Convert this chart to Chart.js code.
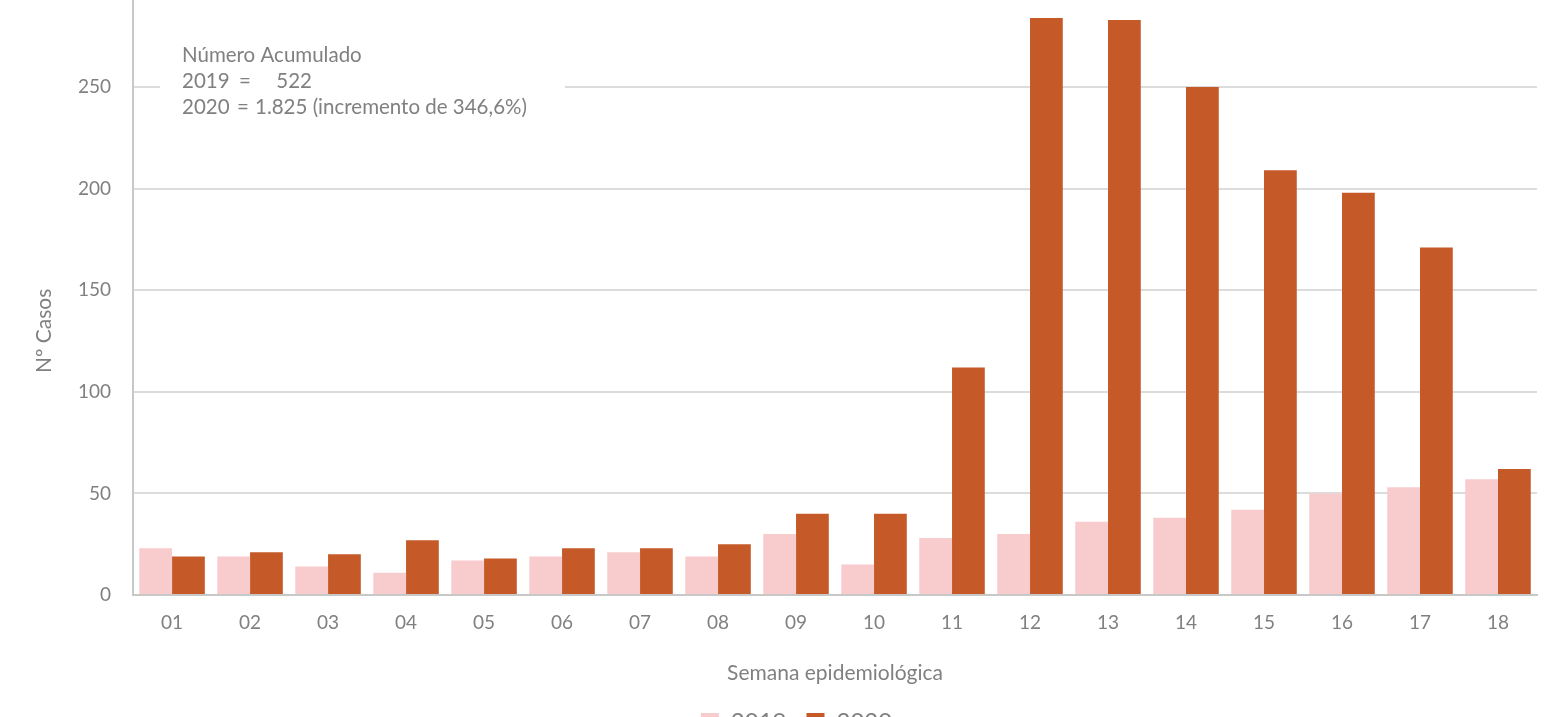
<!DOCTYPE html>
<html>
<head>
<meta charset="utf-8">
<script src="https://cdn.jsdelivr.net/npm/chart.js@4.4.0/dist/chart.umd.min.js"></script>
<style>
  html, body { margin: 0; padding: 0; background: #fff; overflow: hidden; }
  #wrap { position: absolute; left: 0; top: -48px; width: 1566px; height: 792px; }
</style>
</head>
<body>
<div id="wrap"><canvas id="casosChart"></canvas></div>
<script>
// Semanas epidemiológicas
const semanas = ['01', '02', '03', '04', '05', '06', '07', '08', '09', '10', '11', '12', '13', '14', '15', '16', '17', '18'];
const casos2019 = [23, 19, 14, 11, 17, 19, 21, 19, 30, 15, 28, 30, 36, 38, 42, 50, 53, 57];
const casos2020 = [19, 21, 20, 27, 18, 23, 23, 25, 40, 40, 112, 284, 283, 250, 209, 198, 171, 62];
const yTicks = [0, 50, 100, 150, 200, 250];

const textColor = '#808080';
const fontFamily = 'Lato, "Noto Sans", sans-serif';

// Cuadro con el número acumulado y título del eje Y
const acumuladoBox = {
  id: 'acumuladoBox',
  beforeDatasetsDraw(chart) {
    const ctx = chart.ctx;
    const y250 = chart.scales.y.getPixelForValue(250);
    ctx.save();
    ctx.fillStyle = '#ffffff';
    ctx.fillRect(160, y250 - 50, 405, 85);
    ctx.fillStyle = textColor;
    ctx.font = '20.5px ' + fontFamily;
    ctx.textBaseline = 'middle';
    ctx.textAlign = 'left';
    const y0 = y250 - 32;
    ctx.fillText('Número Acumulado', 182, y0);
    ctx.fillText('2019', 182, y0 + 26);
    ctx.textAlign = 'center';
    ctx.fillText('=', 245, y0 + 26);
    ctx.textAlign = 'right';
    ctx.fillText('522', 312, y0 + 26);
    ctx.textAlign = 'left';
    ctx.fillText('2020', 182, y0 + 52);
    ctx.textAlign = 'center';
    ctx.fillText('=', 243, y0 + 52);
    ctx.textAlign = 'left';
    ctx.fillText('1.825 (incremento de 346,6%)', 255, y0 + 52);

    // "Nº Casos", algo por debajo del centro del área
    const yMid = chart.scales.y.getPixelForValue(130);
    ctx.translate(44, yMid);
    ctx.rotate(-Math.PI / 2);
    ctx.textAlign = 'center';
    ctx.font = '21px ' + fontFamily;
    ctx.fillText('Nº Casos', 0, 0);
    ctx.restore();
  }
};

new Chart(document.getElementById('casosChart'), {
  type: 'bar',
  data: {
    labels: semanas,
    datasets: [{
      label: '2019',
      data: casos2019,
      backgroundColor: '#f8cbcd',
      borderWidth: 0
    }, {
      label: '2020',
      data: casos2020,
      backgroundColor: '#c55a28',
      borderWidth: 0
    }]
  },
  options: {
    responsive: true,
    maintainAspectRatio: false,
    animation: false,
    layout: {
      padding: { left: 56, right: 29, top: 0, bottom: 0 }
    },
    datasets: {
      bar: { categoryPercentage: 0.84, barPercentage: 1.0 }
    },
    plugins: {
      legend: {
        position: 'bottom',
        labels: {
          color: textColor,
          boxWidth: 18,
          boxHeight: 18,
          padding: 20,
          font: { family: fontFamily, size: 24 }
        }
      },
      tooltip: { enabled: false }
    },
    scales: {
      x: {
        grid: { display: false, drawTicks: false },
        border: { color: '#c8c8c8', width: 2 },
        ticks: {
          color: textColor,
          padding: 16,
          font: { family: fontFamily, size: 19 }
        },
        title: {
          display: true,
          text: 'Semana epidemiológica',
          color: textColor,
          padding: { top: 11, bottom: 4 },
          font: { family: fontFamily, size: 21 }
        }
      },
      y: {
        min: 0,
        max: 300,
        afterBuildTicks(scale) {
          scale.ticks = yTicks.map(v => ({ value: v }));
        },
        grid: { color: '#dcdcdc', lineWidth: 2, drawTicks: false },
        border: { color: '#c8c8c8', width: 2 },
        ticks: {
          color: textColor,
          padding: 22,
          font: { family: fontFamily, size: 19 }
        }
      }
    }
  },
  plugins: [acumuladoBox]
});
</script>
</body>
</html>
